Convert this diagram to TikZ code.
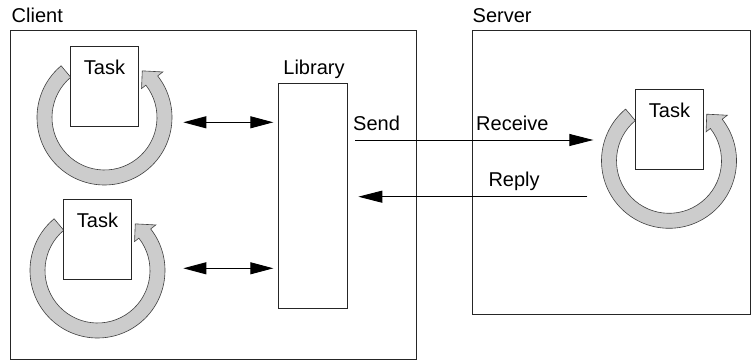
\documentclass[tikz,border=0pt]{standalone}
\usepackage{fontspec}
\setmainfont{Liberation Sans}
\usetikzlibrary{arrows.meta}
\tikzset{
  frame/.style={draw=black!85, line width=0.9pt, fill=none},
  taskbox/.style={draw=black!85, line width=0.9pt, fill=white},
  lbl/.style={inner sep=0pt, anchor=base west, font=\fontsize{20}{24}\selectfont},
  ringstyle/.style={draw=black!75, line width=0.6pt, fill=gray!40},
  conn/.style={draw=black, line width=0.9pt},
  head/.style={-{Triangle[length=24pt,width=12pt]}},
  dhead/.style={{Triangle[length=23pt,width=12pt]}-{Triangle[length=23pt,width=12pt]}}
}
\newcommand{\cyclering}[1]{%
  \begin{scope}[shift={(#1)}]
    \path[ringstyle] (130:67.5pt) arc[start angle=130,end angle=398,radius=67.5pt]
      -- (398:74pt) -- (411:60pt) -- (398:47pt) -- (398:52.5pt)
      arc[start angle=398,end angle=130,radius=52.5pt] -- cycle;
  \end{scope}}
\begin{document}
\begin{tikzpicture}[x=1pt,y=1pt]
\useasboundingbox (0,0) rectangle (751,361);
% frames
\draw[frame] (10,331) rectangle (416,2);
\draw[frame] (472,331) rectangle (750,47);
\node[lbl] (clientlbl) at (11.5,338.3) {Client};
\node[lbl] (serverlbl) at (472.5,338.3) {Server};
% library
\node[frame, minimum width=68.4pt, minimum height=225pt, inner sep=0pt, anchor=north west] (library) at (278.3,277.7) {};
\node[inner sep=0pt, anchor=base, font=\fontsize{20}{24}\selectfont] (liblbl) at (314,286) {Library};
% rings
\coordinate (c1) at (104.5,243.5);
\coordinate (c2) at (97.5,90.5);
\coordinate (c3) at (669,200.2);
\cyclering{c1}
\cyclering{c2}
\cyclering{c3}
% task boxes
\node[taskbox, minimum width=68pt, minimum height=80pt, inner sep=0pt, anchor=north west] (task1) at (70,315) {};
\node[taskbox, minimum width=68pt, minimum height=80pt, inner sep=0pt, anchor=north west] (task2) at (63,162) {};
\node[taskbox, minimum width=68pt, minimum height=80pt, inner sep=0pt, anchor=north west] (task3) at (635,272) {};
\node[inner sep=0pt, anchor=base, font=\fontsize{20}{24}\selectfont] (t1) at ([yshift=-29pt]task1.north) {Task};
\node[inner sep=0pt, anchor=base, font=\fontsize{20}{24}\selectfont] (t2) at ([yshift=-29pt]task2.north) {Task};
\node[inner sep=0pt, anchor=base, font=\fontsize{20}{24}\selectfont] (t3) at ([yshift=-29pt]task3.north) {Task};
% double arrows
\coordinate (a1l) at (183.3,238.7);
\coordinate (a1r) at (273.3,238.7);
\coordinate (a2l) at (183.3,92.7);
\coordinate (a2r) at (273.3,92.7);
\draw[conn, dhead] (a1l) -- (a1r);
\draw[conn, dhead] (a2l) -- (a2r);
% send / reply
\coordinate (sendstart) at (355.3,221);
\coordinate (sendend) at (593.3,221);
\coordinate (replystart) at (587.3,164.3);
\coordinate (replyend) at (358.3,164.3);
\draw[conn, head] (sendstart) -- (sendend);
\draw[conn, head] (replystart) -- (replyend);
\node[lbl] (send) at (353,230) {Send};
\node[lbl] (receive) at (476,230) {Receive};
\node[lbl] (reply) at (488.3,174.3) {Reply};
\end{tikzpicture}
\end{document}
